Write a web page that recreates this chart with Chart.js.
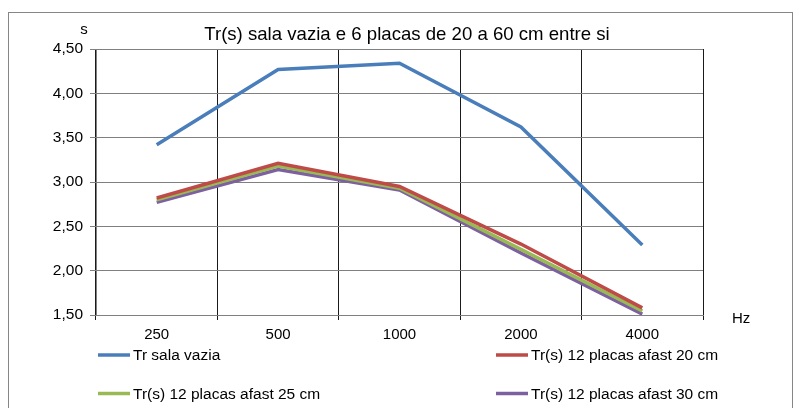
<!DOCTYPE html>
<html>
<head>
<meta charset="utf-8">
<script src="https://cdn.jsdelivr.net/npm/chart.js@4/dist/chart.umd.min.js"></script>
<style>
  html, body { margin: 0; padding: 0; background: #fff; }
  #wrap { width: 795px; height: 408px; position: relative; }
</style>
</head>
<body>
<div id="wrap"><canvas id="c" width="795" height="408"></canvas></div>
<script>
// Frequencies (Hz) on the category axis
const frequencies = ['250', '500', '1000', '2000', '4000'];

// Reverberation time (s) per configuration
const trSalaVazia = [3.42, 4.27, 4.34, 3.62, 2.29];
const trAfast20   = [2.82, 3.21, 2.95, 2.30, 1.58];
const trAfast25   = [2.80, 3.18, 2.93, 2.24, 1.545];
const trAfast30   = [2.77, 3.14, 2.91, 2.20, 1.51];

const seriesNames = [
  'Tr sala vazia',
  'Tr(s) 12 placas afast 20 cm',
  'Tr(s) 12 placas afast 25 cm',
  'Tr(s) 12 placas afast 30 cm'
];

// Y axis range and ticks
const yMin = 1.5, yMax = 4.5, yStep = 0.5;

const chartTitle = 'Tr(s) sala vazia e 6 placas de 20 a 60 cm entre si';
const yUnit = 's';
const xUnit = 'Hz';

const FONT = '"Liberation Sans", Arial, sans-serif';
const colors = ['#4A7EBB', '#BE4B48', '#98B954', '#7D60A0'];

// Frame, title, unit labels and a two-column legend
const decorPlugin = {
  id: 'decor',
  beforeDraw(chart) {
    const ctx = chart.ctx;
    ctx.save();
    ctx.fillStyle = '#fff';
    ctx.fillRect(0, 0, chart.width, chart.height);
    ctx.strokeStyle = '#868686';
    ctx.lineWidth = 1;
    ctx.strokeRect(8.5, 12.5, 784, 420);
    ctx.restore();
  },
  afterDraw(chart) {
    const ctx = chart.ctx;
    const area = chart.chartArea;
    ctx.save();
    ctx.fillStyle = '#000';
    ctx.textBaseline = 'middle';

    ctx.font = '18.6px ' + FONT;
    ctx.textAlign = 'center';
    ctx.fillText(chartTitle, 407, 35);

    ctx.font = '15px ' + FONT;
    ctx.textAlign = 'center';
    ctx.fillText(yUnit, area.left - 12, 30);
    ctx.textAlign = 'left';
    ctx.fillText(xUnit, area.right + 29, area.bottom + 4);

    // legend: two columns, rows top to bottom
    const colX = [98, 496];
    const rowY = [355, 393.5];
    chart.data.datasets.forEach((ds, i) => {
      const x = colX[i % 2];
      const y = rowY[Math.floor(i / 2)];
      ctx.strokeStyle = ds.borderColor;
      ctx.lineWidth = 3.5;
      ctx.beginPath();
      ctx.moveTo(x, y);
      ctx.lineTo(x + 32, y);
      ctx.stroke();
      ctx.fillStyle = '#000';
      ctx.font = '15.5px ' + FONT;
      ctx.textAlign = 'left';
      ctx.fillText(ds.label, x + 35, y + 1);
    });
    ctx.restore();
  }
};

const seriesValues = [trSalaVazia, trAfast20, trAfast25, trAfast30];

new Chart(document.getElementById('c'), {
  type: 'line',
  data: {
    labels: frequencies,
    datasets: seriesValues.map((vals, i) => ({
      label: seriesNames[i],
      data: vals,
      borderColor: colors[i],
      backgroundColor: colors[i],
      borderWidth: 3.5,
      pointRadius: 0,
      tension: 0,
      fill: false
    }))
  },
  options: {
    responsive: false,
    animation: false,
    devicePixelRatio: 1,
    layout: { padding: { left: 0, top: 49, right: 92, bottom: 63 } },
    plugins: {
      legend: { display: false },
      title: { display: false },
      tooltip: { enabled: false }
    },
    scales: {
      x: {
        type: 'category',
        offset: true,
        afterFit(scale) { scale.height = 30; },
        grid: {
          offset: true,
          color: '#1a1a1a',
          lineWidth: 1,
          drawTicks: true,
          tickLength: 5
        },
        border: { color: '#808080', width: 1 },
        ticks: {
          color: '#000',
          font: { family: FONT, size: 15 },
          padding: 6,
          maxRotation: 0
        }
      },
      y: {
        min: yMin,
        max: yMax,
        afterFit(scale) { scale.width = 96; },
        grid: {
          color: '#808080',
          lineWidth: 1,
          tickLength: 6
        },
        border: { color: '#808080', width: 1 },
        ticks: {
          stepSize: yStep,
          color: '#000',
          font: { family: FONT, size: 15.5 },
          padding: 7,
          callback: v => v.toFixed(2).replace('.', ',')
        }
      }
    }
  },
  plugins: [decorPlugin]
});
</script>
</body>
</html>
